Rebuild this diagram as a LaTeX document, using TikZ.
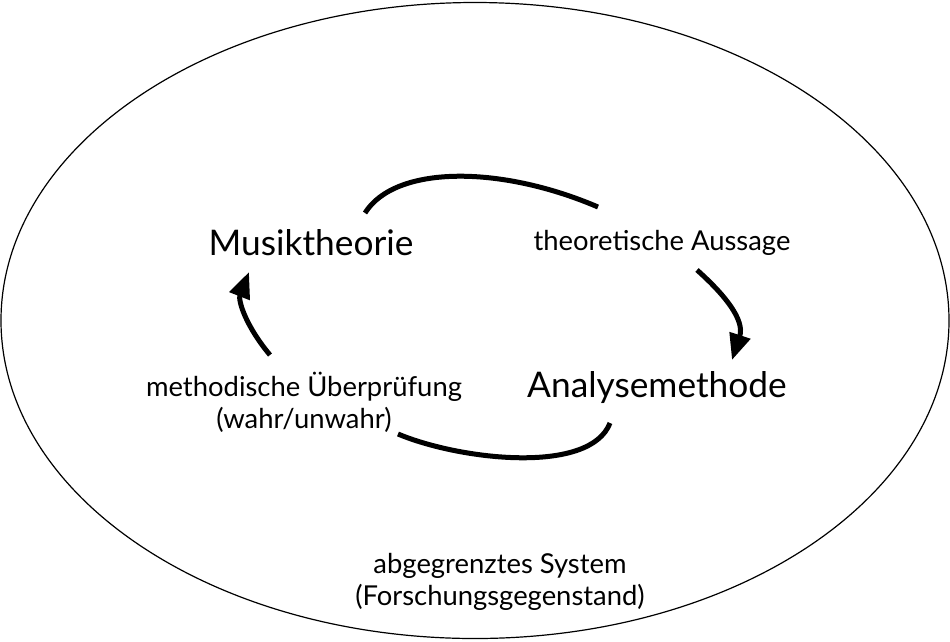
\documentclass[tikz,border=0pt]{standalone}
\usepackage{fontspec}
\setmainfont{Lato}
\usetikzlibrary{arrows.meta}
\begin{document}
\begin{tikzpicture}[x=1pt,y=-1pt,
  big/.style={font=\fontsize{35.3}{40}\selectfont, inner sep=0pt},
  small/.style={font=\fontsize{27.4}{32}\selectfont, inner sep=0pt, align=center},
  flow/.style={line width=5pt},
  flowarrow/.style={line width=5pt, -{Triangle[length=26pt,width=21pt]}}]
\useasboundingbox (0,0) rectangle (950,641);
\draw[line width=1.2pt] (475,320.5) ellipse [x radius=474, y radius=318];
\node[big] (mt) at (311,243) {Musiktheorie};
\node[small] (ta) at (662,243) {theoretische Aussage};
\node[big] (am) at (657,388) {Analysemethode};
\node[small] (mu) at (304,402) {methodische Überprüfung\\(wahr/unwahr)};
\node[small] (sys) at (500,582) {abgegrenztes System\\(Forschungsgegenstand)};
\coordinate (a1) at (365,213);
\coordinate (a2) at (598,207);
\coordinate (b1) at (697,270);
\coordinate (b2) at (732,360);
\coordinate (c1) at (398,434);
\coordinate (c2) at (610,423);
\coordinate (d1) at (270,355);
\coordinate (d2) at (249,272);
\draw[flow] (a1) .. controls (395,165) and (500,165) .. (a2);
\draw[flowarrow] (b1) .. controls (725,295) and (745,320) .. (b2);
\draw[flow] (c1) .. controls (460,460) and (590,475) .. (c2);
\draw[flowarrow] (d1) .. controls (245,325) and (238,300) .. (d2);
\end{tikzpicture}
\end{document}
